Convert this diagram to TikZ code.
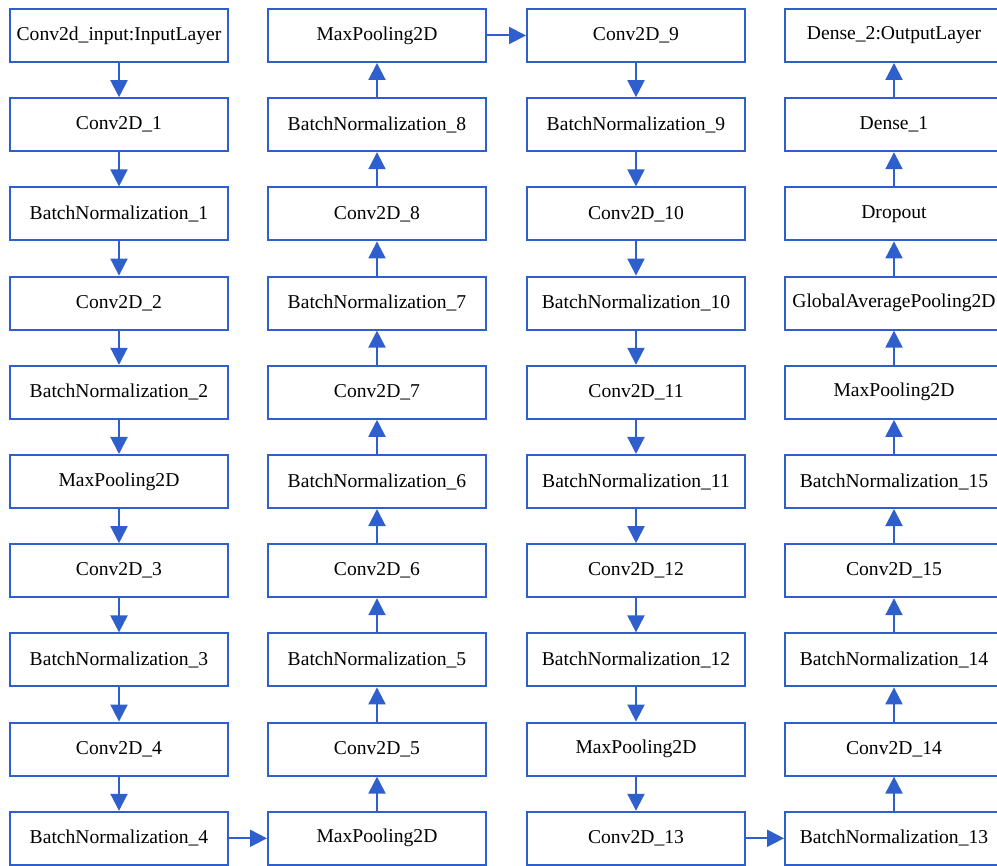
\documentclass[tikz,border=0pt]{standalone}
\usepackage{fontspec}
\setmainfont{Liberation Serif}
\usetikzlibrary{arrows.meta,positioning}
\definecolor{netblue}{RGB}{46,95,205}
\tikzset{
  layer/.style={draw=netblue, line width=1pt, minimum width=109pt, minimum height=26.5pt,
    inner sep=0pt, font=\fontsize{9.8}{12}\selectfont},
  flow/.style={draw=netblue, line width=1pt, -{Triangle[width=8.5pt,length=8.5pt]}, color=netblue}
}
\begin{document}
\begin{tikzpicture}[x=0.5pt,y=-0.5pt]
\clip (0,0) rectangle (997,866);
\useasboundingbox (0,0) rectangle (997,866);
% column 1 (downwards)
\foreach \name [count=\i] in {Conv2d\_input:InputLayer,Conv2D\_1,BatchNormalization\_1,Conv2D\_2,
  BatchNormalization\_2,MaxPooling2D,Conv2D\_3,BatchNormalization\_3,Conv2D\_4,BatchNormalization\_4}
  \node[layer] (a\i) at (119,{35.5+89.2*(\i-1)}) {\name};
% column 2 (upwards)
\foreach \name [count=\i] in {MaxPooling2D,BatchNormalization\_8,Conv2D\_8,BatchNormalization\_7,
  Conv2D\_7,BatchNormalization\_6,Conv2D\_6,BatchNormalization\_5,Conv2D\_5,MaxPooling2D}
  \node[layer] (b\i) at (377,{35.5+89.2*(\i-1)}) {\name};
% column 3 (downwards)
\foreach \name [count=\i] in {Conv2D\_9,BatchNormalization\_9,Conv2D\_10,BatchNormalization\_10,
  Conv2D\_11,BatchNormalization\_11,Conv2D\_12,BatchNormalization\_12,MaxPooling2D,Conv2D\_13}
  \node[layer] (c\i) at (636,{35.5+89.2*(\i-1)}) {\name};
% column 4 (upwards)
\foreach \name [count=\i] in {Dense\_2:OutputLayer,Dense\_1,Dropout,GlobalAveragePooling2D,
  MaxPooling2D,BatchNormalization\_15,Conv2D\_15,BatchNormalization\_14,Conv2D\_14,BatchNormalization\_13}
  \node[layer] (d\i) at (894,{35.5+89.2*(\i-1)}) {\name};
% connectors
\foreach \i [evaluate=\i as \j using int(\i+1)] in {1,...,9} {
  \draw[flow] (a\i) -- (a\j);
  \draw[flow] (b\j) -- (b\i);
  \draw[flow] (c\i) -- (c\j);
  \draw[flow] (d\j) -- (d\i);
}
\draw[flow] (a10) -- (b10);
\draw[flow] (b1) -- (c1);
\draw[flow] (c10) -- (d10);
\end{tikzpicture}
\end{document}
